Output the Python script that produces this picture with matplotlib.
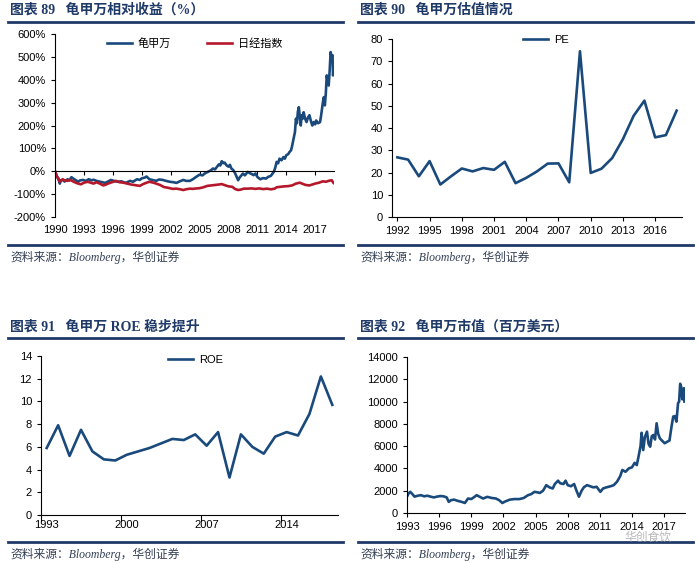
import matplotlib
matplotlib.use("Agg")
import matplotlib.pyplot as plt
from matplotlib.ticker import FuncFormatter

plt.rcParams['font.family'] = ['Liberation Sans', 'Noto Sans CJK SC', 'DejaVu Sans']

# ---- chart 89: relative return (%) ----
ret_years = [1990.0, 1990.1, 1990.2, 1990.35, 1990.5, 1990.6, 1990.8, 1991.0, 1991.3, 1991.5,
             1991.7, 1992.0, 1992.2, 1992.4, 1992.6, 1992.9, 1993.2, 1993.5, 1993.8, 1994.0,
             1994.3, 1994.6, 1994.9, 1995.2, 1995.5, 1995.8, 1996.1, 1996.5, 1996.9, 1997.3,
             1997.6, 1997.8, 1998.1, 1998.5, 1998.8, 1999.0, 1999.3, 1999.5, 1999.8, 2000.1,
             2000.5, 2000.8, 2001.2, 2001.5, 2001.9, 2002.3, 2002.6, 2002.9, 2003.3, 2003.6,
             2004.0, 2004.3, 2004.7, 2005.0, 2005.3, 2005.6, 2005.9, 2006.2, 2006.4, 2006.6,
             2006.8, 2007.0, 2007.15, 2007.3, 2007.45, 2007.6, 2007.8, 2008.0, 2008.15, 2008.3,
             2008.5, 2008.7, 2008.85, 2009.0, 2009.15, 2009.3, 2009.5, 2009.7, 2010.0, 2010.2,
             2010.4, 2010.6, 2010.8, 2011.0, 2011.3, 2011.6, 2011.9, 2012.1, 2012.4, 2012.7,
             2012.85, 2013.0, 2013.15, 2013.3, 2013.5, 2013.7, 2013.85, 2014.0, 2014.2, 2014.35,
             2014.5, 2014.6, 2014.75, 2014.9, 2015.0, 2015.1, 2015.2, 2015.3, 2015.4, 2015.5,
             2015.6, 2015.7, 2015.8, 2015.95, 2016.1, 2016.25, 2016.4, 2016.55, 2016.7, 2016.85,
             2017.0, 2017.1, 2017.3, 2017.5, 2017.6, 2017.7, 2017.8, 2017.9, 2018.0, 2018.1,
             2018.2, 2018.3, 2018.4, 2018.5, 2018.6, 2018.7, 2018.8, 2018.85, 2018.9]
kikkoman_ret = [0, -10, -23, -30, -54, -40, -38, -45, -35, -40,
                -26, -35, -40, -46, -40, -38, -42, -35, -40, -37,
                -42, -45, -48, -51, -45, -38, -42, -46, -44, -51,
                -46, -42, -46, -35, -38, -31, -28, -23, -35, -38,
                -42, -36, -38, -42, -46, -48, -51, -45, -38, -42,
                -42, -35, -23, -15, -18, -8, -2, 5, 12, 8,
                19, 30, 25, 44, 35, 38, 26, 20, 28, 12,
                5, -10, -25, -39, -28, -20, -10, -18, -3, -8,
                -12, -17, -10, -25, -35, -30, -32, -25, -20, -3,
                15, 41, 35, 55, 48, 62, 55, 70, 75, 85,
                92, 110, 140, 172, 230, 210, 260, 280, 240, 200,
                245, 230, 258, 230, 215, 235, 245, 220, 200, 215,
                205, 222, 210, 215, 240, 270, 302, 324, 288, 340,
                419, 390, 375, 440, 521, 500, 507, 419, 433]

nikkei_years = [1990.0, 1990.1, 1990.2, 1990.35, 1990.5, 1990.65, 1990.8, 1991.0, 1991.3, 1991.6,
                1991.9, 1992.2, 1992.5, 1992.7, 1993.0, 1993.4, 1993.7, 1994.0, 1994.3, 1994.7,
                1995.0, 1995.3, 1995.5, 1995.9, 1996.3, 1996.7, 1997.1, 1997.5, 1997.9, 1998.2,
                1998.5, 1998.8, 1999.1, 1999.5, 1999.8, 2000.2, 2000.5, 2000.9, 2001.3, 2001.7,
                2002.2, 2002.6, 2003.0, 2003.3, 2003.7, 2004.0, 2004.3, 2004.7, 2005.0, 2005.4,
                2005.8, 2006.2, 2006.6, 2007.0, 2007.3, 2007.7, 2008.0, 2008.4, 2008.7, 2009.0,
                2009.3, 2009.6, 2010.0, 2010.4, 2010.8, 2011.2, 2011.6, 2012.0, 2012.4, 2012.8,
                2013.0, 2013.4, 2013.8, 2014.2, 2014.6, 2015.0, 2015.4, 2015.7, 2016.0, 2016.4,
                2016.7, 2017.0, 2017.4, 2017.8, 2018.1, 2018.4, 2018.7, 2018.9]
nikkei_ret = [0, -12, -23, -35, -46, -40, -35, -40, -42, -38,
              -45, -51, -55, -57, -50, -46, -50, -54, -48, -55,
              -62, -58, -54, -48, -42, -48, -50, -54, -58, -60,
              -62, -64, -57, -50, -46, -50, -54, -60, -69, -72,
              -77, -76, -79, -82, -78, -76, -77, -75, -74, -70,
              -64, -62, -60, -58, -56, -62, -66, -68, -78, -82,
              -80, -76, -76, -75, -77, -75, -78, -76, -79, -76,
              -70, -68, -66, -65, -62, -54, -50, -55, -60, -62,
              -58, -54, -50, -44, -46, -42, -39, -51]

# ---- chart 90: PE ----
pe_years = list(range(1992, 2019))
pe = [26.8, 25.8, 18.3, 25.1, 14.6, 18.3, 21.8, 20.5, 22.0, 21.2,
      24.8, 15.2, 17.6, 20.5, 24.0, 24.1, 15.6, 74.5, 19.8, 21.7,
      26.5, 35.0, 45.5, 52.3, 35.8, 36.8, 47.8]

# ---- chart 91: ROE ----
roe_years = list(range(1993, 2019))
roe = [5.9, 7.9, 5.2, 7.5, 5.6, 4.9, 4.8, 5.3, 5.6, 5.9,
       6.3, 6.7, 6.6, 7.1, 6.1, 7.3, 3.3, 7.1, 6.0, 5.4,
       6.9, 7.3, 7.0, 8.9, 12.2, 9.7]

# ---- chart 92: market cap (USD mn) ----
cap_years = [1993.0, 1993.15, 1993.3, 1993.5, 1993.7, 1994.0, 1994.3, 1994.6, 1994.9, 1995.2,
             1995.5, 1995.8, 1996.1, 1996.4, 1996.7, 1996.9, 1997.1, 1997.4, 1997.7, 1998.1,
             1998.4, 1998.7, 1999.0, 1999.3, 1999.5, 1999.8, 2000.1, 2000.5, 2000.9, 2001.3,
             2001.6, 2001.9, 2002.2, 2002.6, 2003.0, 2003.5, 2003.9, 2004.3, 2004.6, 2004.9,
             2005.2, 2005.4, 2005.7, 2006.0, 2006.3, 2006.6, 2006.8, 2007.1, 2007.3, 2007.6,
             2007.8, 2008.0, 2008.3, 2008.6, 2008.8, 2009.05, 2009.3, 2009.5, 2009.8, 2010.1,
             2010.4, 2010.7, 2011.05, 2011.3, 2011.6, 2012.0, 2012.3, 2012.6, 2012.9, 2013.1,
             2013.4, 2013.7, 2014.0, 2014.25, 2014.45, 2014.6, 2014.8, 2014.9, 2015.05, 2015.2,
             2015.4, 2015.55, 2015.7, 2015.85, 2016.0, 2016.15, 2016.3, 2016.45, 2016.6, 2016.8,
             2017.05, 2017.3, 2017.5, 2017.7, 2017.85, 2018.0, 2018.15, 2018.3, 2018.4, 2018.5,
             2018.6, 2018.7, 2018.85, 2018.9]
market_cap = [1470, 1750, 1900, 1700, 1470, 1550, 1600, 1500, 1550, 1470,
              1400, 1470, 1520, 1500, 1400, 1000, 1150, 1200, 1100, 1000,
              900, 1300, 1250, 1450, 1600, 1450, 1300, 1450, 1350, 1300,
              1150, 900, 1050, 1200, 1250, 1250, 1350, 1600, 1700, 1900,
              1850, 1800, 2000, 2500, 2300, 2200, 2600, 2900, 2670, 2600,
              2900, 2500, 2400, 2600, 2060, 1460, 2000, 2300, 2500, 2400,
              2300, 2350, 1900, 2200, 2300, 2400, 2500, 2800, 3300, 3860,
              3700, 4000, 4100, 4500, 4300, 5000, 6000, 7200, 5650, 6800,
              7300, 6200, 5950, 6900, 7000, 6600, 8050, 7100, 6700, 6500,
              6260, 6400, 6500, 7800, 8650, 8700, 8200, 9850, 10000, 11600,
              11300, 10200, 11200, 10000]

titles = ["图表 89   龟甲万相对收益（%）", "图表 90   龟甲万估值情况",
          "图表 91   龟甲万 ROE 稳步提升", "图表 92   龟甲万市值（百万美元）"]
source = "资料来源：Bloomberg，华创证券"

BLUE = "#1a4a7c"
RED = "#b5182b"
NAVY = "#1f3a68"
W, H = 699, 563

fig = plt.figure(figsize=(6.99, 5.63), dpi=100)


def rect(l, t, r, b):
    return [l / W, 1 - b / H, (r - l) / W, (b - t) / H]


def frame(px_left, px_right, y_title, y_rule, y_rule2, y_src, title):
    fig.text((px_left + 2) / W, 1 - y_title / H, title, fontsize=10, fontweight='bold',
             color=NAVY, va='center', family=['Liberation Serif', 'Noto Sans CJK SC'])
    fig.add_artist(plt.Line2D([px_left / W, px_right / W], [1 - y_rule / H] * 2,
                              color=NAVY, lw=2))
    fig.add_artist(plt.Line2D([px_left / W, px_right / W], [1 - y_rule2 / H] * 2,
                              color=NAVY, lw=2))
    fig.text((px_left + 2) / W, 1 - y_src / H, source, fontsize=8.5, style='italic',
             color='#333f55', va='center', family=['Liberation Serif', 'Noto Sans CJK SC'])


def style(ax):
    for s in ['top', 'right']:
        ax.spines[s].set_visible(False)
    for s in ['left', 'bottom']:
        ax.spines[s].set_linewidth(0.8)
    ax.tick_params(labelsize=8, length=3, width=0.8, colors='black')


frame(8, 343, 10, 22, 245, 257, titles[0])
frame(358, 693, 10, 22, 245, 257, titles[1])
frame(8, 343, 327, 338, 542, 554, titles[2])
frame(358, 693, 327, 338, 542, 554, titles[3])

leg_kw = dict(frameon=False, fontsize=8, handlelength=2.3, handletextpad=0.5)

# chart 89
ax1 = fig.add_axes(rect(55, 34, 334, 217))
style(ax1)
ax1.plot(ret_years, kikkoman_ret, color=BLUE, lw=1.9, label="龟甲万")
ax1.plot(nikkei_years, nikkei_ret, color=RED, lw=1.9, label="日经指数")
ax1.set_xlim(1990, 2018.95)
ax1.set_ylim(-200, 600)
ax1.set_yticks(range(-200, 601, 100))
ax1.yaxis.set_major_formatter(FuncFormatter(lambda v, p: f"{int(v)}%"))
ax1.set_xticks(range(1990, 2018, 3))
ax1.spines['bottom'].set_position(('data', 0))
ax1.tick_params(axis='x', pad=36)
ax1.legend(loc='upper center', ncol=2, columnspacing=3.2,
           bbox_to_anchor=(0.5, 1.03), **leg_kw)

# chart 90
ax2 = fig.add_axes(rect(392, 39, 682, 217))
style(ax2)
ax2.plot(pe_years, pe, color=BLUE, lw=1.9, label="PE")
ax2.set_xlim(1991.5, 2018.5)
ax2.set_ylim(0, 80)
ax2.set_yticks(range(0, 81, 10))
ax2.set_xticks(pe_years[::3])
ax2.legend(loc='upper center', bbox_to_anchor=(0.53, 1.08), **leg_kw)

# chart 91
ax3 = fig.add_axes(rect(41, 356, 338, 515))
style(ax3)
ax3.plot(roe_years, roe, color=BLUE, lw=1.9, label="ROE")
ax3.set_xlim(1992.5, 2018.5)
ax3.set_ylim(0, 14)
ax3.set_yticks(range(0, 15, 2))
ax3.set_xticks([y - 0.5 for y in roe_years[::7]])
ax3.set_xticklabels([])
ax3.set_xticks(roe_years[::7], minor=True)
ax3.set_xticklabels([str(y) for y in roe_years[::7]], minor=True)
ax3.tick_params(axis='x', which='minor', length=0, labelsize=8)
ax3.tick_params(axis='x', which='major', length=4)
ax3.legend(loc='upper center', bbox_to_anchor=(0.52, 1.07), **leg_kw)

# chart 92
ax4 = fig.add_axes(rect(407, 357, 685, 513))
style(ax4)
ax4.plot(cap_years, market_cap, color=BLUE, lw=1.9)
ax4.set_xlim(1993, 2018.95)
ax4.set_ylim(0, 14000)
ax4.set_yticks(range(0, 14001, 2000))
ax4.set_xticks(range(1993, 2018, 3))

# watermark
fig.text(624 / W, 1 - 537 / H, "华创食饮", fontsize=8.5, color='#9a9a9a', alpha=0.7,
         va='center', family=['Noto Sans CJK SC'])

fig.savefig("out.png", dpi=100)
